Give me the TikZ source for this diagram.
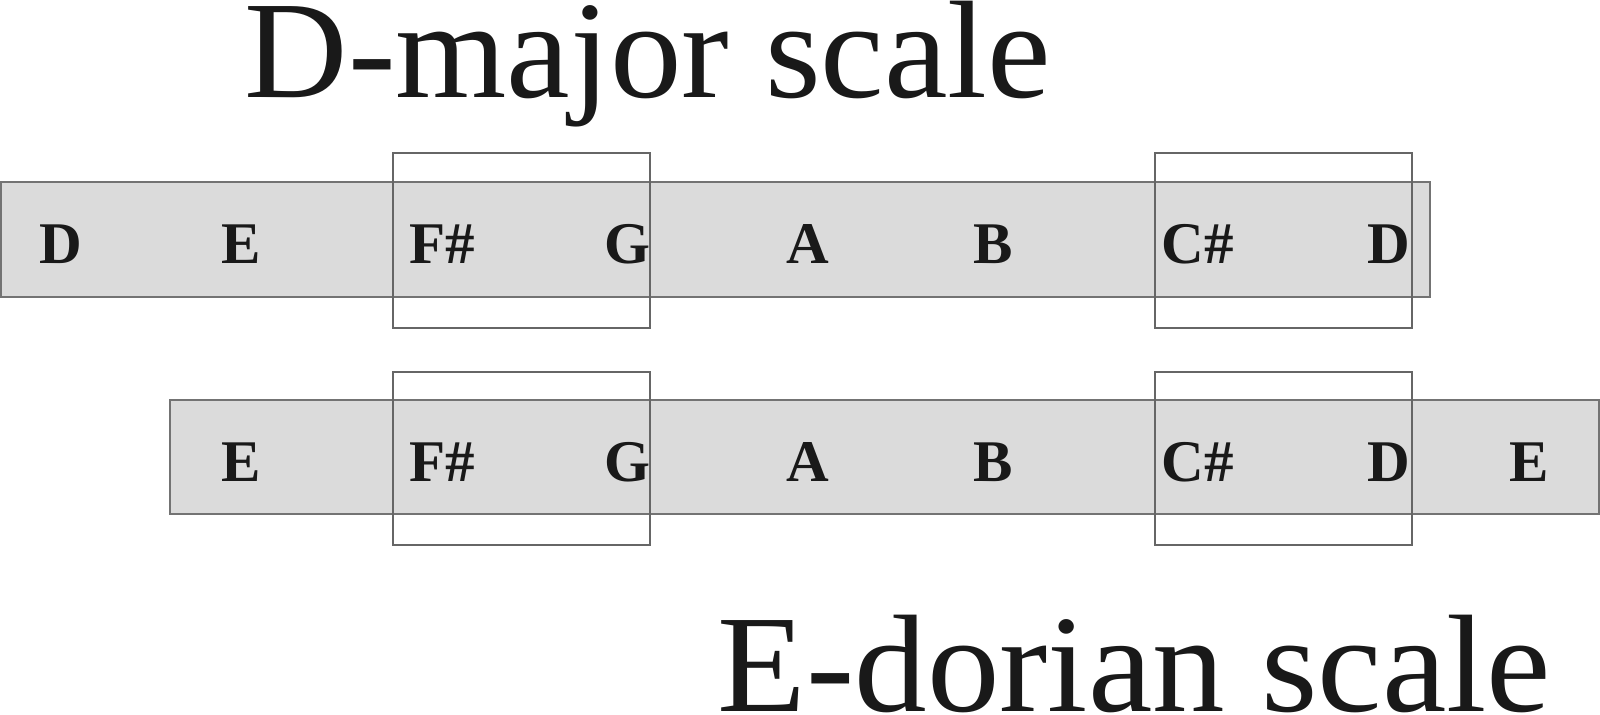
\documentclass[tikz,border=0pt]{standalone}
\usepackage{fontspec}
\setmainfont{Liberation Serif}
\begin{document}
\begin{tikzpicture}[x=0.01cm,y=-0.01cm,
  barbox/.style={draw=black!55,fill=black!14,line width=0.6pt},
  groupbox/.style={draw=black!60,line width=0.6pt},
  note/.style={inner sep=0pt,anchor=base,font=\fontsize{16.8pt}{18pt}\selectfont\bfseries,text=black!90},
  title/.style={inner sep=0pt,anchor=base west,font=\fontsize{39.5pt}{42pt}\selectfont,text=black!90}]
\useasboundingbox (0,0) rectangle (1600,714);
% bars
\path[barbox] (1,182) rectangle (1430,297);
\path[barbox] (170,400) rectangle (1599,514);
% group boxes
\draw[groupbox] (393,153) rectangle (650,328);
\draw[groupbox] (1155,153) rectangle (1412,328);
\draw[groupbox] (393,372) rectangle (650,545);
\draw[groupbox] (1155,372) rectangle (1412,545);
% titles
\node[title] (t1) at (244,97) {\scalebox{1.03}[1]{D-major scale}};
\node[title] (t2) at (717,711) {\scalebox{1.044}[1]{E-dorian scale}};
% row 1
\node[note] (a1) at (61,263.5) {D};
\node[note] (a2) at (241,263.5) {E};
\node[note] (a3) at (442,263.5) {F\#};
\node[note] (a4) at (627,263.5) {G};
\node[note] (a5) at (808,263.5) {A};
\node[note] (a6) at (993,263.5) {B};
\node[note] (a7) at (1198,263.5) {C\#};
\node[note] (a8) at (1389,263.5) {D};
% row 2
\node[note] (b1) at (241,481) {E};
\node[note] (b2) at (442,481) {F\#};
\node[note] (b3) at (627,481) {G};
\node[note] (b4) at (808,481) {A};
\node[note] (b5) at (993,481) {B};
\node[note] (b6) at (1198,481) {C\#};
\node[note] (b7) at (1389,481) {D};
\node[note] (b8) at (1529,481) {E};
\end{tikzpicture}
\end{document}
